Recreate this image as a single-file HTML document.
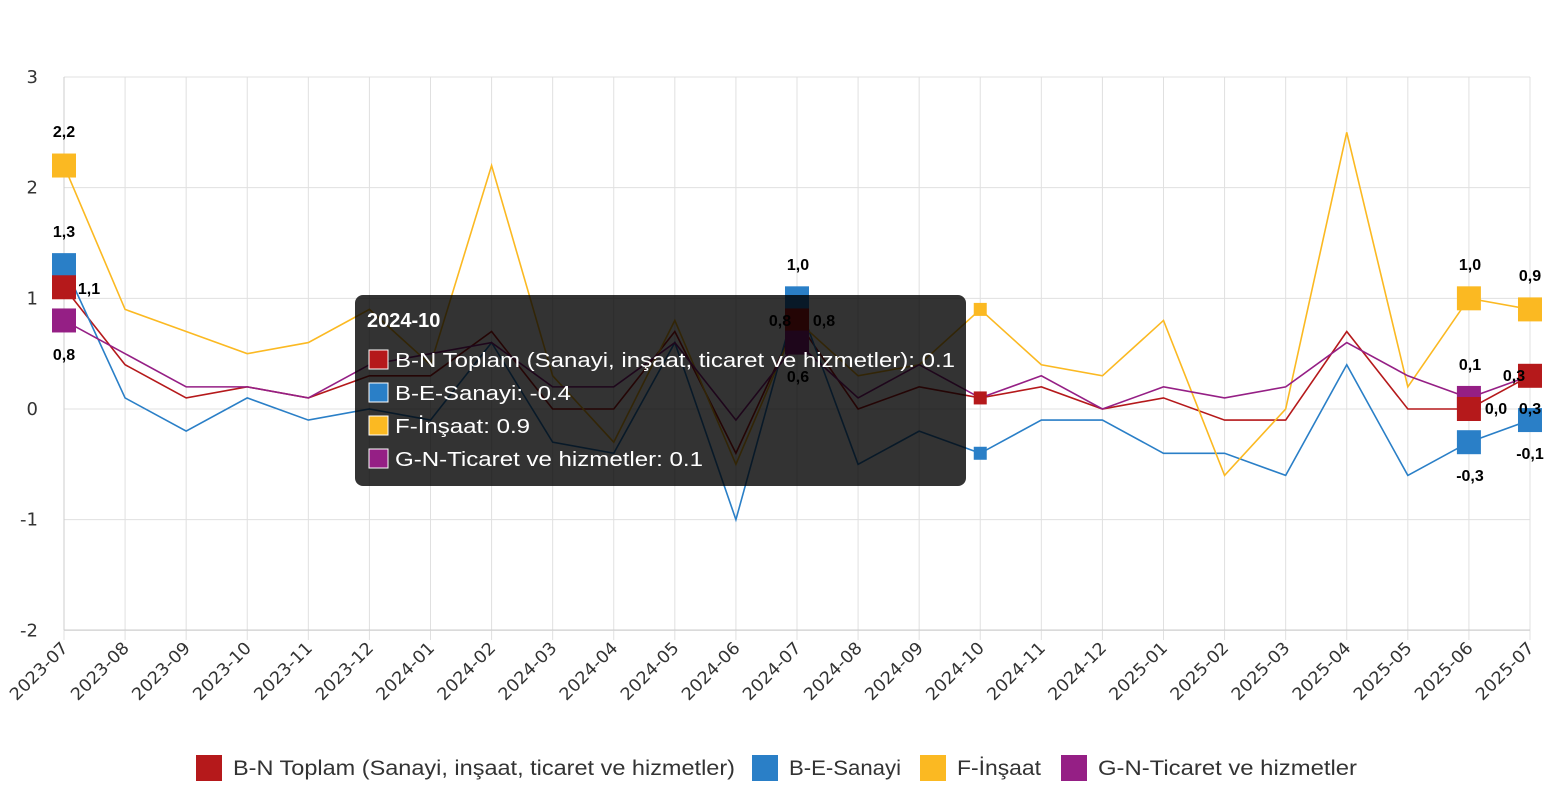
<!DOCTYPE html>
<html><head><meta charset="utf-8"><style>
html,body{margin:0;padding:0;background:#fff;}
svg{display:block;font-family:"Liberation Sans","DejaVu Sans",sans-serif;}
</style></head><body>
<svg id="c" width="1556" height="800" xmlns="http://www.w3.org/2000/svg"></svg>
<script>
const svg=document.getElementById('c');
let h='';
const X=i=>64+i*61.083, Y=v=>409-v*110.67;
const months=[];for(let i=0;i<25;i++){const m=(6+i)%12+1,y=2023+Math.floor((6+i)/12);months.push(y+'-'+String(m).padStart(2,'0'));}
for(let v=-2;v<=3;v++){h+=`<line x1="64" x2="1530" y1="${Y(v)}" y2="${Y(v)}" stroke="#e0e0e0"/>`;
h+=`<text x="38" y="${Y(v)+6}" font-size="18" fill="#333" text-anchor="end" font-family="DejaVu Sans">${v}</text>`;}
for(let i=0;i<25;i++){h+=`<line x1="${X(i)}" x2="${X(i)}" y1="77" y2="640" stroke="#e0e0e0"/>`;
h+=`<text transform="translate(${X(i)+5},649) rotate(-45)" font-size="17" fill="#333" text-anchor="end" font-family="DejaVu Sans" textLength="74" lengthAdjust="spacingAndGlyphs">${months[i]}</text>`;}
h+=`<line x1="64" x2="64" y1="77" y2="630" stroke="#ccc"/><line x1="64" x2="1530" y1="630" y2="630" stroke="#ccc"/>`;
const S=[
['#b5191b',[1.1,0.4,0.1,0.2,0.1,0.3,0.3,0.7,0.0,0.0,0.7,-0.4,0.8,0.0,0.2,0.1,0.2,0.0,0.1,-0.1,-0.1,0.7,0.0,0.0,0.3]],
['#2a7fc7',[1.3,0.1,-0.2,0.1,-0.1,0.0,-0.1,0.6,-0.3,-0.4,0.6,-1.0,1.0,-0.5,-0.2,-0.4,-0.1,-0.1,-0.4,-0.4,-0.6,0.4,-0.6,-0.3,-0.1]],
['#fbb922',[2.2,0.9,0.7,0.5,0.6,0.9,0.4,2.2,0.3,-0.3,0.8,-0.5,0.8,0.3,0.4,0.9,0.4,0.3,0.8,-0.6,0.0,2.5,0.2,1.0,0.9]],
['#951f85',[0.8,0.5,0.2,0.2,0.1,0.4,0.5,0.6,0.2,0.2,0.6,-0.1,0.6,0.1,0.4,0.1,0.3,0.0,0.2,0.1,0.2,0.6,0.3,0.1,0.3]]];
for(const [c,d] of S){h+=`<polyline fill="none" stroke="${c}" stroke-width="1.6" points="${d.map((v,i)=>X(i)+','+Y(v)).join(' ')}"/>`;}
const sq=(i,v,c,s)=>`<rect x="${X(i)-s/2}" y="${Y(v)-s/2}" width="${s}" height="${s}" fill="${c}"/>`;
const lab=(x,y,t)=>`<text x="${x}" y="${y}" font-size="16" font-weight="bold" text-anchor="middle" fill="#000">${t}</text>`;
h+=sq(0,2.2,'#fbb922',24)+sq(0,1.3,'#2a7fc7',24)+sq(0,1.1,'#b5191b',24)+sq(0,0.8,'#951f85',24);
h+=lab(64,137,'2,2')+lab(64,237,'1,3')+lab(89,294,'1,1')+lab(64,360,'0,8');
h+=sq(12,1.0,'#2a7fc7',24)+sq(12,0.8,'#b5191b',24)+sq(12,0.6,'#951f85',24);
h+=lab(798,270,'1,0')+lab(780,326,'0,8')+lab(824,326,'0,8')+lab(798,382,'0,6');
h+=sq(23,1.0,'#fbb922',24)+sq(23,0.1,'#951f85',24)+sq(23,0.0,'#b5191b',24)+sq(23,-0.3,'#2a7fc7',24);
h+=lab(1470,370,'0,1')+lab(1470,270,'1,0')+lab(1496,414,'0,0')+lab(1470,481,'-0,3');
h+=sq(24,0.9,'#fbb922',24)+sq(24,0.3,'#b5191b',24)+sq(24,-0.1,'#2a7fc7',24);
h+=lab(1530,281,'0,9')+lab(1514,381,'0,3')+lab(1530,414,'0,3')+lab(1530,459,'-0,1');
h+=`<rect x="355" y="295" width="611" height="191" rx="8" fill="rgba(0,0,0,0.8)"/>`;
h+=`<text x="367" y="327" font-size="20" font-weight="bold" fill="#fff">2024-10</text>`;
const tt=[['#b5191b','B-N Toplam (Sanayi, inşaat, ticaret ve hizmetler): 0.1',560],['#2a7fc7','B-E-Sanayi: -0.4',176],['#fbb922','F-İnşaat: 0.9',135],['#951f85','G-N-Ticaret ve hizmetler: 0.1',308]];
tt.forEach(([c,t,w],k)=>{const y=360+k*33;h+=`<rect x="369" y="${y-10}" width="19" height="19" fill="${c}" stroke="#fff" stroke-width="1"/><text x="395" y="${y+7}" font-size="20" fill="#fff" textLength="${w}" lengthAdjust="spacingAndGlyphs">${t}</text>`;});
h+=sq(15,0.9,'#fbb922',13)+sq(15,0.1,'#b5191b',13)+sq(15,-0.4,'#2a7fc7',13);
const L=[[196,'#b5191b','B-N Toplam (Sanayi, inşaat, ticaret ve hizmetler)',502],[752,'#2a7fc7','B-E-Sanayi',112],[920,'#fbb922','F-İnşaat',84],[1061,'#951f85','G-N-Ticaret ve hizmetler',259]];
for(const [x,c,t,w] of L){h+=`<rect x="${x}" y="755" width="26" height="26" fill="${c}"/><text x="${x+37}" y="775" font-size="21" fill="#333" textLength="${w}" lengthAdjust="spacingAndGlyphs">${t}</text>`;}
svg.innerHTML=h;
</script>
</body></html>
